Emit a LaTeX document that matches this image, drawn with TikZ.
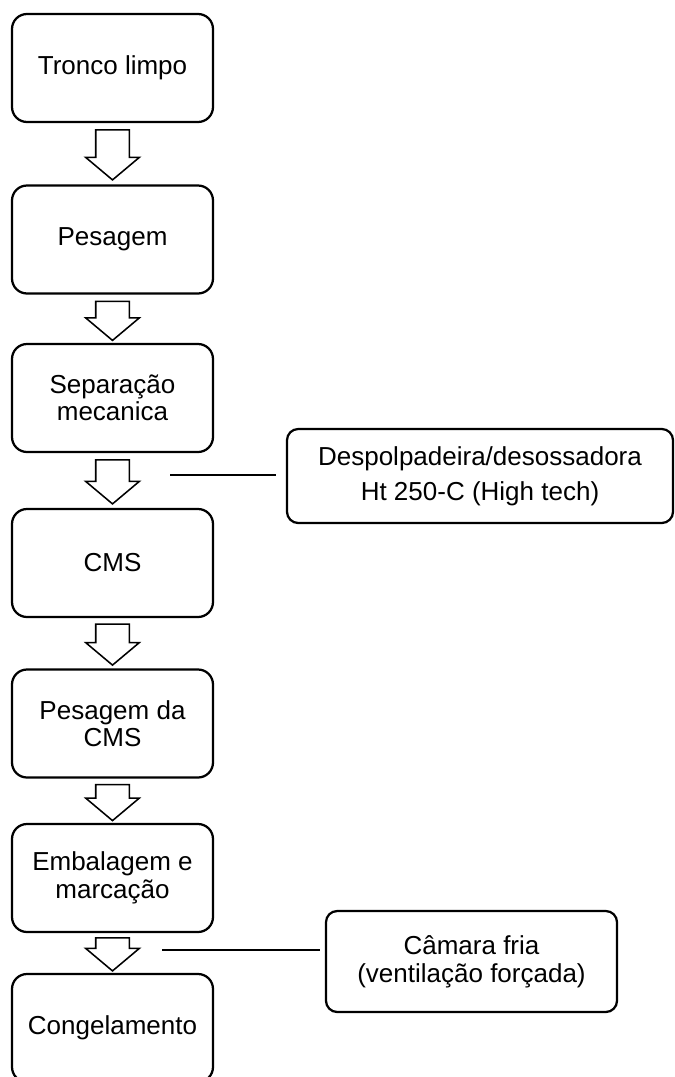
\documentclass[tikz,border=0pt]{standalone}
\usepackage{fontspec}
\setmainfont{Liberation Sans}
\usetikzlibrary{shapes.arrows}
\tikzset{
  every picture/.style={line width=1.6pt},
  stepbox/.style={draw, rounded corners=0.375cm, align=center, inner sep=0pt,
    minimum width=5.025cm, minimum height=2.7cm, font=\fontsize{18.5}{19.6}\selectfont},
  sidebox/.style={draw, rounded corners=0.28cm, align=center, inner sep=0pt,
    font=\fontsize{18.5}{#1}\selectfont},
  sidebox/.default=19.9,
  flow/.style={draw, line width=1.1pt, single arrow, rotate=-90, anchor=tail, inner xsep=0pt, inner ysep=0.4cm,
    single arrow head extend=0.25cm, single arrow tip angle=100},
  sideline/.style={line width=0.8pt},
}

\begin{document}
\begin{tikzpicture}
  \useasboundingbox (0,0) rectangle (16.85,-26.925);
  % main steps
  \node[stepbox] (tronco) at (2.8125,-1.7) {Tronco limpo};
  \node[stepbox] (pesagem) at (2.8125,-5.9875) {Pesagem};
  \node[stepbox] (separacao) at (2.8125,-9.95) {Separação\\mecanica};
  \node[stepbox] (cms) at (2.8125,-14.075) {CMS};
  \node[stepbox] (pesagemcms) at (2.8125,-18.0875) {Pesagem da\\CMS};
  \node[stepbox] (embalagem) at (2.8125,-21.95) {Embalagem e\\marcação};
  \node[stepbox] (congelamento) at (2.8125,-25.7) {Congelamento};
  % block arrows between the steps
  \node[flow, minimum height=1.25cm] (a1) at ([yshift=-0.15cm]tronco.south) {};
  \node[flow, minimum height=0.975cm] (a2) at ([yshift=-0.15cm]pesagem.south) {};
  \node[flow, minimum height=1.1cm] (a3) at ([yshift=-0.15cm]separacao.south) {};
  \node[flow, minimum height=1.025cm] (a4) at ([yshift=-0.13cm]cms.south) {};
  \node[flow, minimum height=0.9cm] (a5) at ([yshift=-0.13cm]pesagemcms.south) {};
  \node[flow, minimum height=0.825cm] (a6) at ([yshift=-0.1cm]embalagem.south) {};
  % equipment notes
  \node[sidebox=24.9, minimum width=9.65cm, minimum height=2.35cm] (despolpadeira) at (12.0,-11.9)
    {Despolpadeira/desossadora\\Ht 250-C (High tech)};
  \node[sidebox, minimum width=7.275cm, minimum height=2.525cm] (camara) at (11.7875,-24.0375)
    {Câmara fria\\(ventilação forçada)};
  \coordinate (l1) at (4.25,-11.875);
  \draw[sideline, shorten >=0.25cm] (l1) -- (l1 -| despolpadeira.west);
  \coordinate (l2) at (4.05,-23.75);
  \draw[sideline, shorten >=0.125cm] (l2) -- (l2 -| camara.west);
\end{tikzpicture}
\end{document}
